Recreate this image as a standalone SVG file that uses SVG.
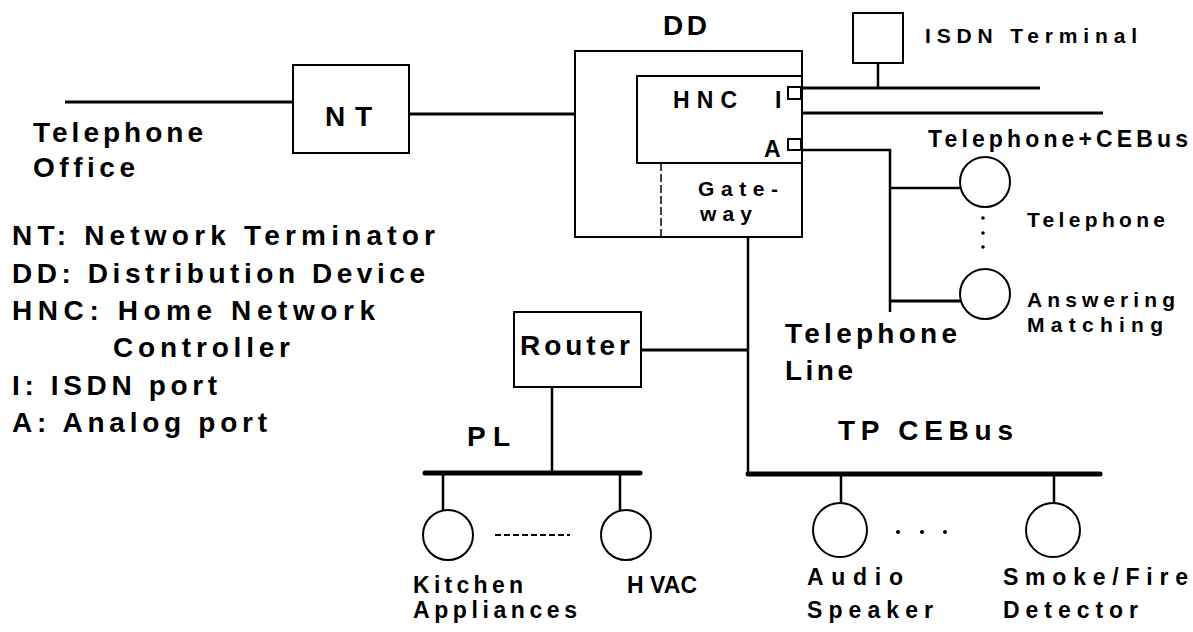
<svg xmlns="http://www.w3.org/2000/svg" width="1193" height="632" viewBox="0 0 1193 632">
<style>
text{font-family:"Liberation Sans",Arial,sans-serif;font-weight:bold;fill:#000}
.L{font-size:28px}
.M{font-size:23px}
.S{font-size:21px}
.G{font-size:21px}
.box{fill:none;stroke:#000;stroke-width:2}
.ln{fill:none;stroke:#000;stroke-width:2.5}
.th{fill:none;stroke:#000;stroke-width:3}
.bus{fill:none;stroke:#000;stroke-width:5;stroke-linecap:round}
.dev{fill:#fff;stroke:#000;stroke-width:2}
</style>
<rect width="1193" height="632" fill="#fff"/>
<g id="connectors">
<line class="th" x1="65" y1="102" x2="293" y2="102"/>
<line class="th" x1="409" y1="114" x2="575" y2="114"/>
<line class="th" x1="801" y1="88" x2="1040" y2="88"/>
<line class="th" x1="802" y1="113" x2="1103" y2="113"/>
<line class="ln" x1="878" y1="63" x2="878" y2="88"/>
<polyline class="ln" points="801,150 890,150 890,312"/>
<line class="ln" x1="890" y1="188" x2="961" y2="188"/>
<line class="th" x1="890" y1="301" x2="961" y2="301"/>
<line class="ln" x1="748" y1="237" x2="748" y2="474"/>
<line class="th" x1="641" y1="350" x2="748" y2="350"/>
<line class="ln" x1="552" y1="387" x2="552" y2="473"/>
<line class="bus" x1="425" y1="473" x2="640" y2="473"/>
<line class="ln" x1="443" y1="473" x2="443" y2="510"/>
<line class="ln" x1="620" y1="473" x2="620" y2="510"/>
<line class="bus" x1="748" y1="474" x2="1100" y2="474"/>
<line class="ln" x1="841" y1="474" x2="841" y2="503"/>
<line class="ln" x1="1054" y1="474" x2="1054" y2="503"/>
<line x1="495" y1="535" x2="570" y2="535" stroke="#000" stroke-width="2" stroke-dasharray="6 3"/>
<circle cx="983" cy="218" r="1.8"/>
<circle cx="983" cy="233" r="1.8"/>
<circle cx="983" cy="247" r="1.8"/>
<circle cx="898" cy="532" r="2"/>
<circle cx="922" cy="532" r="2"/>
<circle cx="945" cy="532" r="2"/>
</g>
<g id="office">
<text class="L" x="33" y="142" textLength="170" lengthAdjust="spacing">Telephone</text>
<text class="L" x="33" y="177" textLength="102" lengthAdjust="spacing">Office</text>
</g>
<g id="nt">
<rect class="box" x="293" y="65" width="116" height="88"/>
<text class="L" x="325" y="126" textLength="47" lengthAdjust="spacing">NT</text>
</g>
<g id="dd">
<rect class="box" x="575" y="51" width="227" height="186"/>
<text class="L" x="663" y="35" textLength="44" lengthAdjust="spacing">DD</text>
</g>
<g id="hnc">
<rect class="box" x="637" y="76" width="165" height="87"/>
<text class="M" x="673" y="108" textLength="64" lengthAdjust="spacing">HNC</text>
<text class="M" x="775" y="108">I</text>
<text class="M" x="764" y="157" textLength="16" lengthAdjust="spacing">A</text>
<rect class="box" x="788" y="87" width="13" height="12"/>
<rect class="box" x="788" y="139" width="13" height="11"/>
</g>
<g id="gateway">
<line x1="661" y1="163" x2="661" y2="237" stroke="#000" stroke-width="1.5" stroke-dasharray="8 3"/>
<text class="G" x="698" y="196" textLength="80" lengthAdjust="spacing">Gate-</text>
<text class="G" x="700" y="221" textLength="52" lengthAdjust="spacing">way</text>
</g>
<g id="isdn-terminal">
<rect class="box" x="853" y="13" width="50" height="50"/>
<text class="S" x="925" y="43" textLength="212" lengthAdjust="spacing">ISDN Terminal</text>
</g>
<g id="telephone-cebus">
<text class="M" x="928" y="147" textLength="260" lengthAdjust="spacing">Telephone+CEBus</text>
</g>
<g id="telephone">
<circle class="dev" cx="985" cy="182" r="25"/>
<text class="S" x="1027" y="227" textLength="138" lengthAdjust="spacing">Telephone</text>
</g>
<g id="answering">
<circle class="dev" cx="985" cy="294" r="25"/>
<text class="S" x="1027" y="307" textLength="148" lengthAdjust="spacing">Answering</text>
<text class="S" x="1027" y="332" textLength="136" lengthAdjust="spacing">Matching</text>
</g>
<g id="telephone-line">
<text class="L" x="785" y="343" textLength="172" lengthAdjust="spacing">Telephone</text>
<text class="L" x="785" y="380" textLength="68" lengthAdjust="spacing">Line</text>
</g>
<g id="router">
<rect class="box" x="514" y="312" width="127" height="75"/>
<text class="L" x="520" y="355" textLength="110" lengthAdjust="spacing">Router</text>
</g>
<g id="pl">
<text class="L" x="467" y="446" textLength="43" lengthAdjust="spacing">PL</text>
</g>
<g id="tp-cebus">
<text class="L" x="838" y="440" textLength="175" lengthAdjust="spacing">TP CEBus</text>
</g>
<g id="kitchen">
<circle class="dev" cx="448" cy="535" r="25"/>
<text class="M" x="413" y="593" textLength="110" lengthAdjust="spacing">Kitchen</text>
<text class="M" x="413" y="618" textLength="164" lengthAdjust="spacing">Appliances</text>
</g>
<g id="hvac">
<circle class="dev" cx="626" cy="535" r="25"/>
<text class="M" x="627" y="593" textLength="70" lengthAdjust="spacing">H VAC</text>
</g>
<g id="audio">
<circle class="dev" cx="840" cy="530" r="27"/>
<text class="M" x="807" y="585" textLength="96" lengthAdjust="spacing">Audio</text>
<text class="M" x="807" y="618" textLength="126" lengthAdjust="spacing">Speaker</text>
</g>
<g id="smoke">
<circle class="dev" cx="1053" cy="530" r="27"/>
<text class="M" x="1003" y="585" textLength="185" lengthAdjust="spacing">Smoke/Fire</text>
<text class="M" x="1003" y="618" textLength="135" lengthAdjust="spacing">Detector</text>
</g>
<g id="legend">
<text class="L" x="12" y="245" textLength="423" lengthAdjust="spacing">NT: Network Terminator</text>
<text class="L" x="12" y="283" textLength="413" lengthAdjust="spacing">DD: Distribution Device</text>
<text class="L" x="12" y="320" textLength="363" lengthAdjust="spacing">HNC: Home Network</text>
<text class="L" x="113" y="357" textLength="177" lengthAdjust="spacing">Controller</text>
<text class="L" x="12" y="395" textLength="205" lengthAdjust="spacing">I: ISDN port</text>
<text class="L" x="12" y="432" textLength="255" lengthAdjust="spacing">A: Analog port</text>
</g>
</svg>
